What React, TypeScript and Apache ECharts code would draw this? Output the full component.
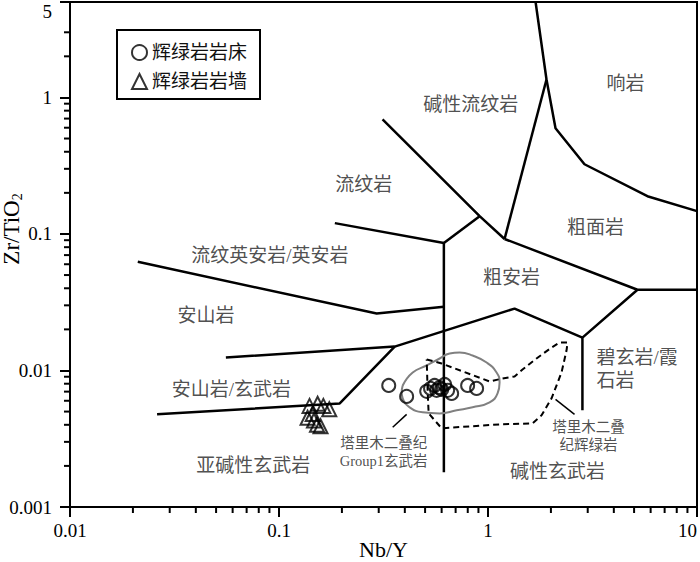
import React, { useEffect, useRef } from 'react';
import * as echarts from 'echarts';

// ---- axis ranges & ticks ----
const X_MIN = 0.01;
const X_MAX = 10;
const Y_MIN = 0.001;
const Y_MAX = 5;
const xMinorTicks = [0.02, 0.03, 0.04, 0.05, 0.06, 0.07, 0.08, 0.09, 0.2, 0.3, 0.4, 0.5, 0.6, 0.7, 0.8, 0.9, 2, 3, 4, 5, 6, 7, 8, 9];
const yMinorTicks = [0.002, 0.003, 0.004, 0.005, 0.006, 0.007, 0.008, 0.009, 0.02, 0.03, 0.04, 0.05, 0.06, 0.07, 0.08, 0.09, 0.2, 0.3, 0.4, 0.5, 0.6, 0.7, 0.8, 0.9, 2, 3];

// ---- samples ----
const sillName = '辉绿岩岩床';
const sillNbY = [0.335, 0.408, 0.509, 0.531, 0.555, 0.587, 0.62, 0.641, 0.67, 0.568, 0.6, 0.799, 0.882];
const sillZrTi = [0.00777, 0.00646, 0.00703, 0.00739, 0.00777, 0.00751, 0.0079, 0.00715, 0.00679, 0.00715, 0.00727, 0.00777, 0.00739];
const dykeName = '辉绿岩岩墙';
const dykeNbY = [0.14, 0.153, 0.163, 0.174, 0.137, 0.147, 0.152, 0.158, 0.145];
const dykeZrTi = [0.0055, 0.0057, 0.0055, 0.0052, 0.0045, 0.0043, 0.004, 0.0039, 0.0048];

// ---- classification boundaries (Nb/Y, Zr/TiO2) ----
const phonoliteLine = [[1.689, 5], [1.905, 1.352], [2.104, 0.594], [2.895, 0.324], [5.79, 0.189], [10, 0.147]];
const comenditeLine = [[1.905, 1.352], [1.2, 0.0919]];
const rhyoliteUpperLine = [[0.313, 0.69], [0.912, 0.135], [1.2, 0.0919]];
const trachyteLine = [[1.2, 0.0919], [5.19, 0.039], [10, 0.039]];
const basaniteLine = [[5.19, 0.039], [2.83, 0.0174], [2.83, 0.00511]];
const shortDiagLine = [[0.912, 0.135], [0.615, 0.0859]];
const verticalLine = [[0.615, 0.0859], [0.615, 0.0018]];
const rhyoliteLowerLine = [[0.185, 0.12], [0.615, 0.0859]];
const daciteLowerLine = [[0.0211, 0.0625], [0.2934, 0.0261], [0.615, 0.0293]];
const andesiteLowerLine = [[0.0557, 0.01245], [0.3577, 0.01496], [1.34, 0.0284], [2.83, 0.0174]];
const basaltLowerLine = [[0.0261, 0.00477], [0.1953, 0.00574], [0.3577, 0.01496]];
const leaderLeft = [[0.408, 0.00477], [0.35, 0.00384]];
const leaderRight = [[2.104, 0.00614], [2.594, 0.00477]];

// Tarim Permian Group1 basalt field (grey) and Tarim Permian diabase field (dashed)
const group1Field = [[0.3907, 0.00777], [0.4362, 0.00967], [0.509, 0.01088], [0.587, 0.01224], [0.655, 0.0133], [0.732, 0.01353], [0.844, 0.01287], [0.985, 0.01144], [1.099, 0.00967], [1.136, 0.00817], [1.111, 0.00679], [1.018, 0.00584], [0.844, 0.00537], [0.708, 0.00511], [0.587, 0.00485], [0.487, 0.00494], [0.4218, 0.00537], [0.3907, 0.00625], [0.3864, 0.00691], [0.3907, 0.00777]];
const diabaseField = [[0.509, 0.01203], [0.6, 0.01125], [1.018, 0.00831], [1.174, 0.00874], [1.34, 0.00904], [1.463, 0.01017], [1.707, 0.01224], [2.014, 0.01472], [2.199, 0.01601], [2.402, 0.01601], [2.375, 0.014], [2.248, 0.00967], [2.014, 0.00625], [1.804, 0.00469], [1.634, 0.0041], [1.136, 0.00403], [0.6, 0.00377], [0.52, 0.00485], [0.5144, 0.00691], [0.509, 0.01203]];

// ---- field labels ----
const regionNames = ['响岩', '碱性流纹岩', '流纹岩', '粗面岩', '流纹英安岩/英安岩', '粗安岩', '安山岩', '安山岩/玄武岩', '亚碱性玄武岩', '碱性玄武岩'];
const regionNbY = [4.548, 0.826, 0.2543, 3.268, 0.0904, 1.297, 0.0447, 0.0592, 0.0754, 2.151];
const regionZrTi = [1.265, 0.889, 0.2317, 0.1106, 0.0691, 0.0477, 0.0252, 0.00727, 0.002025, 0.00183];
const leftLabelNames = ['碧玄岩/霞', '石岩'];
const leftLabelNbY = [3.304, 3.304];
const leftLabelZrTi = [0.01245, 0.00845];
const smallNames = ['塔里木二叠纪', 'Group1玄武岩', '塔里木二叠', '纪辉绿岩'];
const smallNbY = [0.317, 0.317, 3.027, 3.027];
const smallZrTi = [0.00293, 0.00217, 0.00384, 0.00284];

const FONT = "'Liberation Serif', 'Noto Sans CJK SC', serif";

function lineSeries(data: number[][], extra: any = {}) {
  return {
    type: 'line',
    data,
    symbol: 'none',
    silent: true,
    z: 2,
    lineStyle: { color: '#000', width: 2.5, ...(extra.lineStyle || {}) },
    smooth: extra.smooth || false,
  };
}

export default function App() {
  const ref = useRef<HTMLDivElement>(null);
  useEffect(() => {
    if (!ref.current) return;
    const chart = echarts.init(ref.current, null, { renderer: 'svg' });
    const boundaries = [phonoliteLine, comenditeLine, rhyoliteUpperLine, trachyteLine, basaniteLine, shortDiagLine, verticalLine, rhyoliteLowerLine, daciteLowerLine, andesiteLowerLine, basaltLowerLine];
    const option: any = {
      animation: false,
      backgroundColor: '#fff',
      grid: {
        left: 70, top: 2, width: 627, height: 505,
        containLabel: false, outerBoundsMode: 'none',
        show: true, borderColor: '#000', borderWidth: 2, backgroundColor: 'transparent',
      },
      legend: {
        data: [sillName, dykeName],
        orient: 'vertical',
        left: 117,
        top: 30,
        borderColor: '#000',
        borderWidth: 2,
        backgroundColor: '#fff',
        padding: [13, 13, 8, 14],
        itemGap: 10,
        itemWidth: 15,
        itemHeight: 15,
        textStyle: { fontSize: 19, fontFamily: FONT, color: '#111' },
      },
      xAxis: {
        type: 'log',
        logBase: 10,
        min: X_MIN,
        max: X_MAX,
        name: 'Nb/Y',
        nameLocation: 'middle',
        nameGap: 31,
        nameMoveOverlap: false,
        nameTextStyle: { fontSize: 22, lineHeight: 22, fontFamily: "'Liberation Serif', serif", color: '#000' },
        axisLine: { show: true, lineStyle: { color: '#000', width: 2 } },
        axisTick: { show: true, inside: false, length: 10, lineStyle: { color: '#000', width: 2 } },
        axisLabel: {
          fontSize: 19, fontFamily: "'Liberation Serif', serif", color: '#000', margin: 14,
          alignMaxLabel: 'right',
          formatter: (v: number) => String(Number(v.toPrecision(4))),
        },
        splitLine: { show: false },
        minorTick: { show: false },
      },
      yAxis: {
        type: 'log',
        logBase: 10,
        min: Y_MIN,
        max: Y_MAX,
        axisLine: { show: true, lineStyle: { color: '#000', width: 2 } },
        axisTick: { show: true, inside: false, length: 10, lineStyle: { color: '#000', width: 2 } },
        axisLabel: {
          fontSize: 19, fontFamily: "'Liberation Serif', serif", color: '#000', margin: 18,
          verticalAlignMaxLabel: 'top',
          formatter: (v: number) => String(Number(v.toPrecision(4))),
        },
        splitLine: { show: false },
      },
      graphic: [
        {
          type: 'text',
          x: 11,
          y: 229,
          rotation: Math.PI / 2,
          style: {
            text: '{a|Zr/TiO}{b|2}',
            align: 'center',
            verticalAlign: 'middle',
            rich: {
              a: { fontSize: 23, fontFamily: "'Liberation Serif', serif", fill: '#000', lineHeight: 26 },
              b: { fontSize: 14, fontFamily: "'Liberation Serif', serif", fill: '#000', verticalAlign: 'bottom', lineHeight: 18 },
            },
          },
        },
      ],
      series: [
        ...boundaries.map((b) => lineSeries(b)),
        lineSeries(leaderLeft, { lineStyle: { width: 1.5 } }),
        lineSeries(leaderRight, { lineStyle: { width: 1.5 } }),
        lineSeries(group1Field, { smooth: 0.5, lineStyle: { color: '#808080', width: 2 } }),
        lineSeries(diabaseField, { lineStyle: { width: 2, type: [6, 4] } }),
        {
          type: 'custom',
          silent: true,
          clip: false,
          data: xMinorTicks.map((v) => [v, Y_MIN]),
          renderItem: (_p: any, api: any) => {
            const pt = api.coord([api.value(0), api.value(1)]);
            return { type: 'line', shape: { x1: pt[0], y1: pt[1], x2: pt[0], y2: pt[1] + 6 }, style: { stroke: '#000', lineWidth: 2 } };
          },
        },
        {
          type: 'custom',
          silent: true,
          clip: false,
          data: yMinorTicks.map((v) => [X_MIN, v]),
          renderItem: (_p: any, api: any) => {
            const pt = api.coord([api.value(0), api.value(1)]);
            return { type: 'line', shape: { x1: pt[0] - 6, y1: pt[1], x2: pt[0], y2: pt[1] }, style: { stroke: '#000', lineWidth: 2 } };
          },
        },
        {
          type: 'scatter',
          silent: true,
          symbolSize: 0,
          z: 3,
          data: regionNames.map((n, i) => ({ name: n, value: [regionNbY[i], regionZrTi[i]] })),
          label: { show: true, position: 'inside', formatter: '{b}', fontSize: 19, fontFamily: FONT, color: '#222' },
        },
        {
          type: 'scatter',
          silent: true,
          symbolSize: 0,
          z: 3,
          data: leftLabelNames.map((n, i) => ({ name: n, value: [leftLabelNbY[i], leftLabelZrTi[i]] })),
          label: { show: true, position: 'right', distance: 0, formatter: '{b}', fontSize: 19, fontFamily: FONT, color: '#222' },
        },
        {
          type: 'scatter',
          silent: true,
          symbolSize: 0,
          z: 3,
          data: smallNames.map((n, i) => ({ name: n, value: [smallNbY[i], smallZrTi[i]] })),
          label: { show: true, position: 'inside', formatter: '{b}', fontSize: 14.5, fontFamily: FONT, color: '#222' },
        },
        {
          name: sillName,
          type: 'scatter',
          symbol: 'circle',
          symbolSize: 13,
          z: 5,
          data: sillNbY.map((x, i) => [x, sillZrTi[i]]),
          itemStyle: { color: 'rgba(255,255,255,0)', borderColor: '#000', borderWidth: 2 },
        },
        {
          name: dykeName,
          type: 'scatter',
          symbol: 'triangle',
          symbolSize: 14,
          z: 5,
          data: dykeNbY.map((x, i) => [x, dykeZrTi[i]]),
          itemStyle: { color: 'rgba(255,255,255,0)', borderColor: '#000', borderWidth: 2 },
        },
      ],
    };
    chart.setOption(option);
    return () => chart.dispose();
  }, []);
  return <div ref={ref} style={{ position: 'absolute', left: 0, top: 0, width: 700, height: 562 }} />;
}
